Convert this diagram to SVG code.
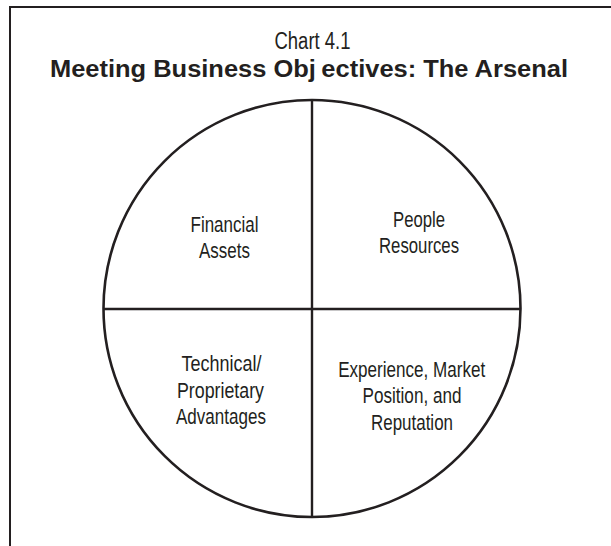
<svg xmlns="http://www.w3.org/2000/svg" width="611" height="546" viewBox="0 0 611 546">
  <style>
    .frame { stroke: #231f20; stroke-width: 2; fill: none; }
    .wheel { stroke: #231f20; stroke-width: 2.6; fill: #ffffff; }
    .divider { stroke: #231f20; stroke-width: 2.4; fill: none; }
    .caption { font-family: "Liberation Sans", Arial, sans-serif; font-size: 23px; fill: #231f20; text-anchor: middle; }
    .heading { font-family: "Liberation Sans", Arial, sans-serif; font-size: 23px; font-weight: bold; fill: #231f20; text-anchor: middle; }
    .label { font-family: "Liberation Sans", Arial, sans-serif; font-size: 22.5px; fill: #231f20; text-anchor: middle; }
  </style>
  <rect width="611" height="546" fill="#ffffff"/>

  <!-- open frame: top and left rules -->
  <g id="frame">
    <line class="frame" x1="10" y1="7" x2="611" y2="7"/>
    <line class="frame" x1="10" y1="6" x2="10" y2="546"/>
  </g>

  <!-- titles -->
  <g id="title">
    <text class="caption" x="312.5" y="48.5" textLength="76" lengthAdjust="spacingAndGlyphs">Chart 4.1</text>
    <text class="heading" x="309" y="76.5" textLength="518" lengthAdjust="spacingAndGlyphs">Meeting Business Obj<tspan dx="5">ectives:</tspan> The Arsenal</text>
  </g>

  <!-- the circle split into four quadrants -->
  <g id="wheel">
    <circle class="wheel" cx="312" cy="308.5" r="208.5"/>
  </g>
  <g id="connectors">
    <line class="divider" x1="312" y1="100" x2="312" y2="517"/>
    <line class="divider" x1="103.5" y1="309" x2="520.5" y2="309"/>
  </g>

  <g id="financial-assets">
    <text class="label" x="224.5" y="232" textLength="68" lengthAdjust="spacingAndGlyphs">Financial</text>
    <text class="label" x="224.5" y="257.5" textLength="51" lengthAdjust="spacingAndGlyphs">Assets</text>
  </g>

  <g id="people-resources">
    <text class="label" x="419" y="226.5" textLength="52" lengthAdjust="spacingAndGlyphs">People</text>
    <text class="label" x="419" y="252.5" textLength="80" lengthAdjust="spacingAndGlyphs">Resources</text>
  </g>

  <g id="technical-advantages">
    <text class="label" x="221.5" y="371" textLength="80" lengthAdjust="spacingAndGlyphs">Technical/</text>
    <text class="label" x="220.5" y="397.5" textLength="87" lengthAdjust="spacingAndGlyphs">Proprietary</text>
    <text class="label" x="221" y="424" textLength="90" lengthAdjust="spacingAndGlyphs">Advantages</text>
  </g>

  <g id="experience-reputation">
    <text class="label" x="411.7" y="377" textLength="147" lengthAdjust="spacingAndGlyphs">Experience, Market</text>
    <text class="label" x="412" y="403" textLength="99" lengthAdjust="spacingAndGlyphs">Position, and</text>
    <text class="label" x="412" y="429.5" textLength="82" lengthAdjust="spacingAndGlyphs">Reputation</text>
  </g>
</svg>
